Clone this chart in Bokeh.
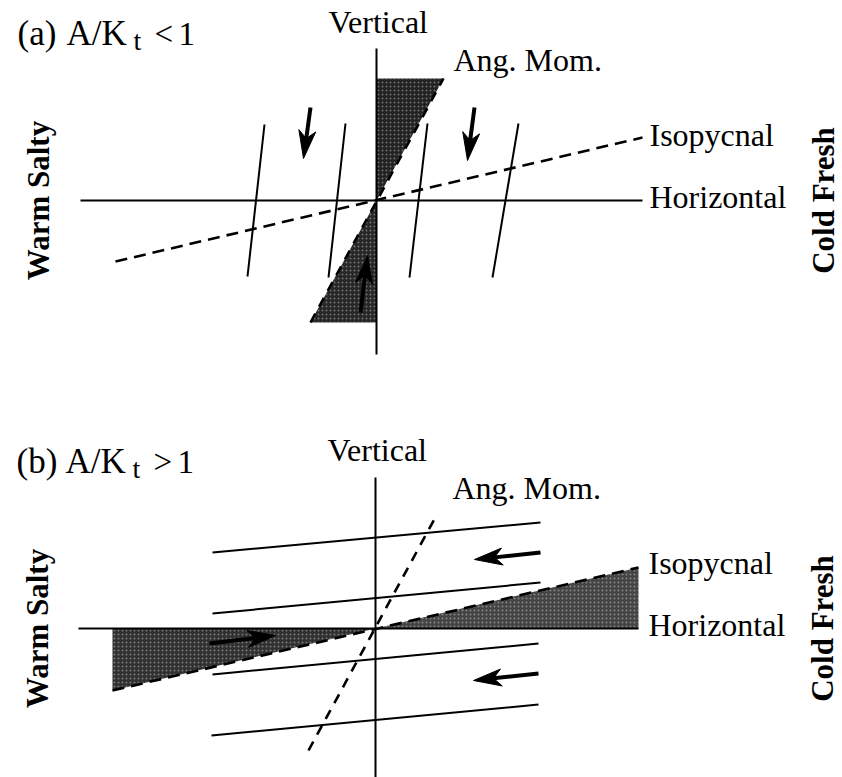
import numpy as np
from bokeh.plotting import figure
from bokeh.models import Range1d
from bokeh.core.properties import value
from bokeh.embed import file_html
from bokeh.resources import INLINE

# ---------------------------------------------------------------------------
# Geometry of the two schematic panels, in pixel units relative to each
# panel's origin (crossing of the Vertical and Horizontal lines), y upward.
# ---------------------------------------------------------------------------

# panel (a): A/K_t < 1
A_ORIGIN = (376, 577)
A_HORIZ_X = [-296, 266]
A_VERT_Y = [-154, 152]
A_ISO_X = [-261, 266]
A_ISO_Y = [-61, 63]
A_ANG_X = [-66, 67]
A_ANG_Y = [-122, 122]
A_CONT_TOP_X = [-112, -31, 51, 142]
A_CONT_BOT_X = [-129, -48, 33, 116]
A_CONT_TOP_Y = [76, 77, 77, 77]
A_CONT_BOT_Y = [-76, -77, -77, -77]
A_ARROW_X0 = [-66, 98, -16]
A_ARROW_Y0 = [93, 93, -112]
A_ARROW_X1 = [-73, 91, -9]
A_ARROW_Y1 = [42, 40, -55]

# panel (b): A/K_t > 1
B_ORIGIN = (375, 149)
B_HORIZ_X = [-297, 263]
B_VERT_Y = [-149, 151]
B_ISO_X = [-263, 263]
B_ISO_Y = [-62, 61]
B_ANG_X = [-67, 62]
B_ANG_Y = [-122, 115]
B_CONT_LEFT_X = [-163, -163, -163, -164]
B_CONT_RIGHT_X = [165, 165, 163, 163]
B_CONT_LEFT_Y = [76, 15, -46, -107]
B_CONT_RIGHT_Y = [106, 46, -15, -76]
B_ARROW_X0 = [165, 163, -166]
B_ARROW_Y0 = [76, -45, -15]
B_ARROW_X1 = [99, 98, -100]
B_ARROW_Y1 = [69, -52, -7]

# text labels, shared by both panels (baseline positions)
LABELS = ["Vertical", "Ang. Mom.", "Isopycnal", "Horizontal"]
LABEL_X = [-48, 77, 273, 273]
LABEL_Y = [168, 130, 55, -7]
# rotated side labels, placed by their centre
SIDE_LABELS = ["Warm Salty", "Cold Fresh"]
SIDE_X = [-338, 447]
SIDE_Y = [0, 0]

TITLE_A = ["(a)", "A/K", "<", "1"]
TITLE_B = ["(b)", "A/K", ">", "1"]
TITLE_X = [-359, -310, -222, -198]
TITLE_Y = 155
SUB_X, SUB_Y = -243, 150

# arrowhead shape: length, half width, notch depth (fraction of length)
HEAD_LEN, HEAD_HALF, HEAD_NOTCH = 28, 8.5, 0.28

# the renderer places the alphabetic baseline about a third of an em low
BASE_SHIFT = 0.34

SERIF = value("Liberation Serif")
W, H = 842, 777

p = figure(width=W, height=H, x_range=Range1d(0, W), y_range=Range1d(0, H),
           output_backend="svg", toolbar_location=None, min_border=0,
           x_axis_location=None, y_axis_location=None)
p.grid.visible = False
p.outline_line_color = None
p.background_fill_color = "white"
p.border_fill_color = "white"


def shift(xs, ys, origin):
    return [x + origin[0] for x in xs], [y + origin[1] for y in ys]


def wedge(p, xs, ys, origin, color):
    x, y = shift(xs, ys, origin)
    p.patch(x, y, fill_color=color, line_color=None,
            hatch_pattern="dot", hatch_color="white", hatch_alpha=0.35,
            hatch_scale=4, hatch_weight=1)


def label(p, xs, ys, texts, size, **kw):
    ys = [y + BASE_SHIFT * size for y in ys]
    p.text(xs, ys, text=texts, text_font=SERIF,
           text_font_size=value(f"{size}px"), text_baseline="alphabetic",
           text_color="black", **kw)


def arrows(p, x0, y0, x1, y1, origin):
    """Thick shafts with notched, filled heads from tail (x0,y0) to tip (x1,y1)."""
    ox, oy = origin
    t = np.column_stack([x0, y0]).astype(float) + [ox, oy]
    h = np.column_stack([x1, y1]).astype(float) + [ox, oy]
    d = h - t
    u = d / np.hypot(d[:, 0], d[:, 1])[:, None]
    n = np.column_stack([-u[:, 1], u[:, 0]])
    base = h - HEAD_LEN * u
    notch = h - HEAD_LEN * (1 - HEAD_NOTCH) * u
    left = base + HEAD_HALF * n
    right = base - HEAD_HALF * n
    p.segment(t[:, 0], t[:, 1], notch[:, 0], notch[:, 1],
              line_color="black", line_width=4)
    xs = [[h[i, 0], left[i, 0], notch[i, 0], right[i, 0]] for i in range(len(h))]
    ys = [[h[i, 1], left[i, 1], notch[i, 1], right[i, 1]] for i in range(len(h))]
    p.patches(xs, ys, fill_color="black", line_color="black", line_width=1)


def draw_panel(p, origin, horiz_x, vert_y, iso_x, iso_y, ang_x, ang_y,
               cont, arrow_pts, title, wedges):
    ox, oy = origin
    # shaded wedges
    for (wx, wy, col) in wedges:
        wedge(p, wx, wy, origin, col)
    # reference axes
    x, y = shift(horiz_x, [0, 0], origin)
    p.line(x, y, line_color="black", line_width=2)
    x, y = shift([0, 0], vert_y, origin)
    p.line(x, y, line_color="black", line_width=2)
    # isopycnal and angular momentum surfaces
    x, y = shift(iso_x, iso_y, origin)
    p.line(x, y, line_color="black", line_width=2.6, line_dash="12 7")
    x, y = shift(ang_x, ang_y, origin)
    p.line(x, y, line_color="black", line_width=2.6, line_dash="10 8")
    # solid contour lines
    cx0, cy0, cx1, cy1 = cont
    xs = [[a + ox, b + ox] for a, b in zip(cx0, cx1)]
    ys = [[a + oy, b + oy] for a, b in zip(cy0, cy1)]
    p.multi_line(xs, ys, line_color="black", line_width=2)
    # flow arrows
    arrows(p, *arrow_pts, origin)
    # labels
    x, y = shift(LABEL_X, LABEL_Y, origin)
    label(p, x, y, LABELS, 32, text_align="left")
    x, y = shift(SIDE_X, SIDE_Y, origin)
    p.text(x, y, text=SIDE_LABELS, angle=np.pi / 2, text_font=SERIF,
           text_font_size=value("31px"), text_font_style="bold",
           text_baseline="middle", text_align="center", text_color="black")
    x, y = shift(TITLE_X, [TITLE_Y] * len(TITLE_X), origin)
    label(p, x[:2], y[:2], title[:2], 35, text_align="left")
    label(p, x[2:], y[2:], title[2:], 33, text_align="left")
    label(p, [SUB_X + ox], [SUB_Y + oy], ["t"], 28, text_align="left")


# panel (a): shaded wedges between the vertical and the angular momentum line
a_wedges = [
    ([0, 0, A_ANG_X[1]], [0, A_ANG_Y[1], A_ANG_Y[1]], "#222222"),
    ([0, A_ANG_X[0], 0], [0, A_ANG_Y[0], A_ANG_Y[0]], "#262626"),
]
draw_panel(p, A_ORIGIN, A_HORIZ_X, A_VERT_Y, A_ISO_X, A_ISO_Y, A_ANG_X, A_ANG_Y,
           (A_CONT_TOP_X, A_CONT_TOP_Y, A_CONT_BOT_X, A_CONT_BOT_Y),
           (A_ARROW_X0, A_ARROW_Y0, A_ARROW_X1, A_ARROW_Y1),
           TITLE_A, a_wedges)

# panel (b): shaded wedges between the horizontal and the isopycnal
b_wedges = [
    ([0, B_ISO_X[0], B_ISO_X[0]], [0, 0, B_ISO_Y[0]], "#303030"),
    ([0, B_ISO_X[1], B_ISO_X[1]], [0, 0, B_ISO_Y[1]], "#444444"),
]
draw_panel(p, B_ORIGIN, B_HORIZ_X, B_VERT_Y, B_ISO_X, B_ISO_Y, B_ANG_X, B_ANG_Y,
           (B_CONT_LEFT_X, B_CONT_LEFT_Y, B_CONT_RIGHT_X, B_CONT_RIGHT_Y),
           (B_ARROW_X0, B_ARROW_Y0, B_ARROW_X1, B_ARROW_Y1),
           TITLE_B, b_wedges)

open("out.html", "w").write(file_html(p, INLINE))
